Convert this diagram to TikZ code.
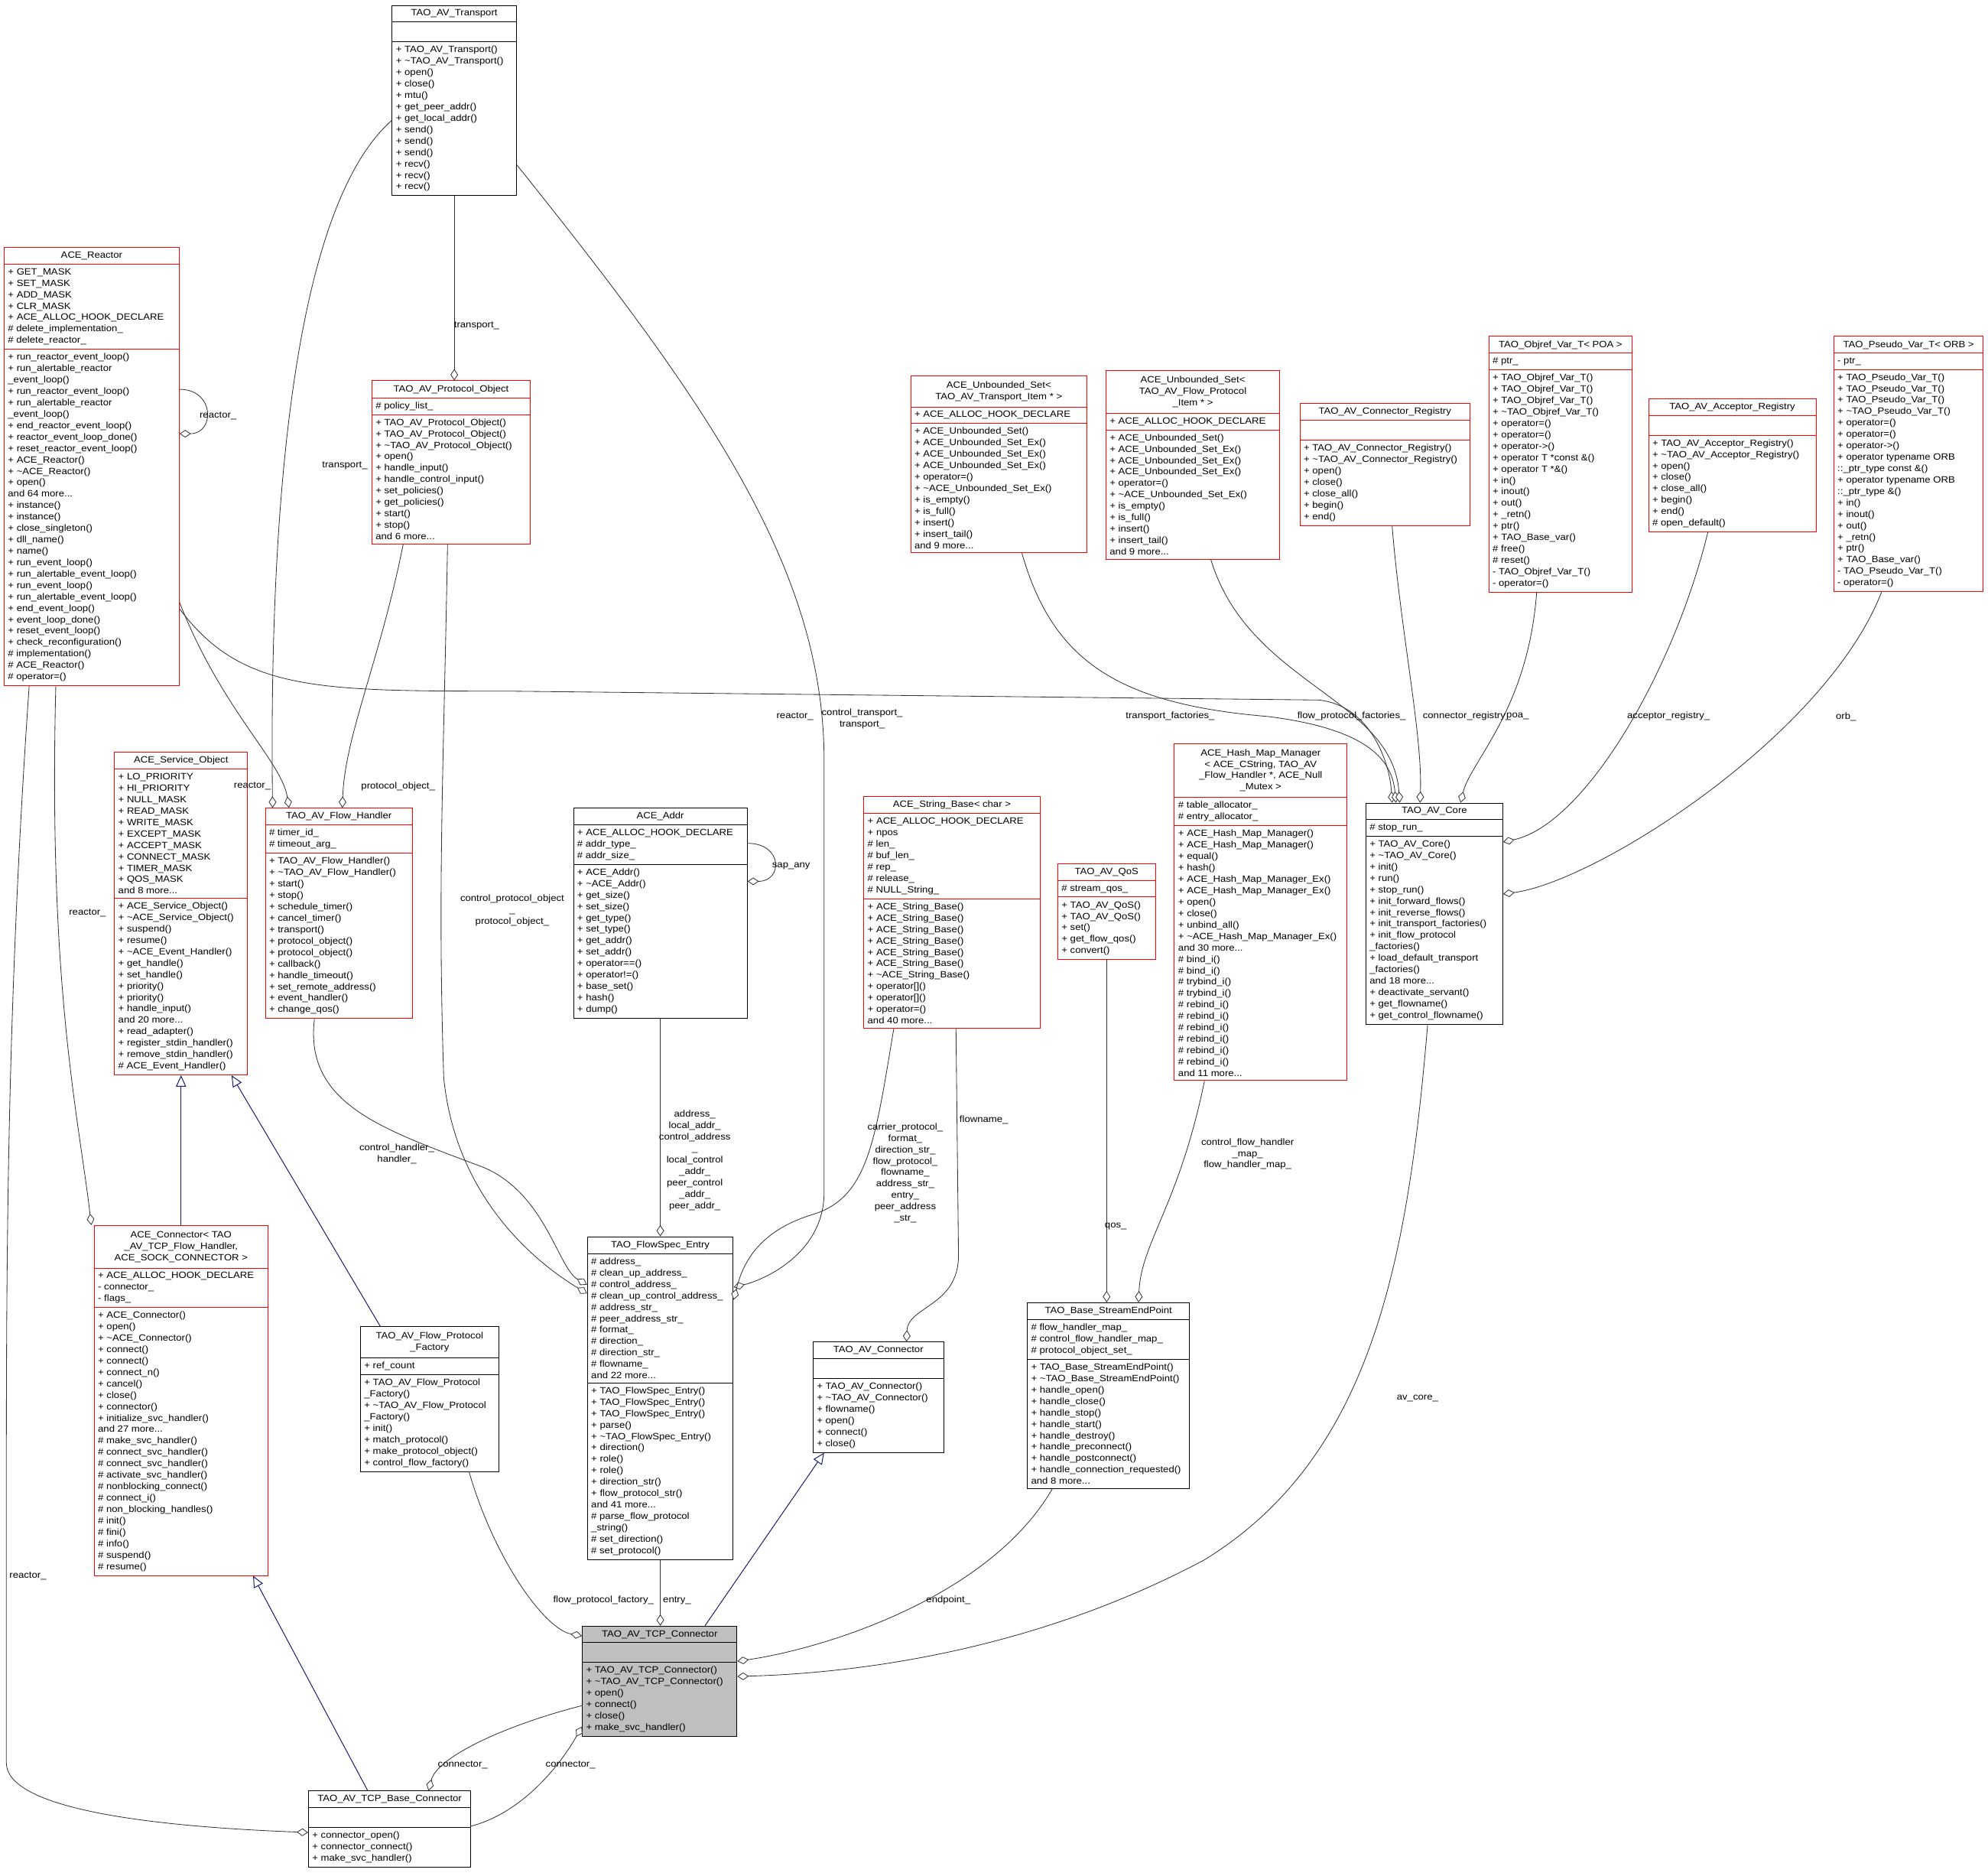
\documentclass[tikz,border=0pt]{standalone}
\usepackage{fontspec}
\setmainfont[FakeStretch=1.1]{Liberation Sans}
\usetikzlibrary{shapes.multipart,arrows.meta,calc}
\definecolor{navyb}{RGB}{25,25,112}
\newcommand\fsz{\fontsize{7.2}{9}\selectfont}
\newcommand\ttl[1]{\begin{tabular}{@{}c@{}}#1\end{tabular}}
\tikzset{
 cls/.style={rectangle split, rectangle split parts=3, rectangle split part align={center,left,left},
   rectangle split ignore empty parts=false, rectangle split empty part height=9pt,
   draw=black, fill=white, anchor=north west, align=left, inner xsep=3pt, inner ysep=3pt,
   line width=0.6pt, font=\fsz},
 redc/.style={draw=red},
 agg/.style={draw=black!80, line width=0.5pt, -{Diamond[open,length=9pt,width=6pt,fill=white]}},
 inh/.style={draw=navyb, line width=0.6pt, -{Triangle[open,length=9pt,width=8pt,fill=white]}},
 lbl/.style={font=\fsz, align=center, inner sep=0pt}
}
\catcode`\_=12
\catcode`\~=12
\begin{document}
\begin{tikzpicture}[x=1pt,y=-1pt]
\useasboundingbox (0,0) rectangle (1568,1479);
% ---------- classes
\node[cls, minimum width=98pt] (trans) at (309,4) {TAO_AV_Transport\nodepart{two}\nodepart{three}+ TAO_AV_Transport()\\+ ~TAO_AV_Transport()\\+ open()\\+ close()\\+ mtu()\\+ get_peer_addr()\\+ get_local_addr()\\+ send()\\+ send()\\+ send()\\+ recv()\\+ recv()\\+ recv()};

\node[cls, redc, minimum width=138pt] (reactor) at (3,195) {ACE_Reactor\nodepart{two}+ GET_MASK\\+ SET_MASK\\+ ADD_MASK\\+ CLR_MASK\\+ ACE_ALLOC_HOOK_DECLARE\\\# delete_implementation_\\\# delete_reactor_\nodepart{three}+ run_reactor_event_loop()\\+ run_alertable_reactor\\_event_loop()\\+ run_reactor_event_loop()\\+ run_alertable_reactor\\_event_loop()\\+ end_reactor_event_loop()\\+ reactor_event_loop_done()\\+ reset_reactor_event_loop()\\+ ACE_Reactor()\\+ ~ACE_Reactor()\\+ open()\\and 64 more...\\+ instance()\\+ instance()\\+ close_singleton()\\+ dll_name()\\+ name()\\+ run_event_loop()\\+ run_alertable_event_loop()\\+ run_event_loop()\\+ run_alertable_event_loop()\\+ end_event_loop()\\+ event_loop_done()\\+ reset_event_loop()\\+ check_reconfiguration()\\\# implementation()\\\# ACE_Reactor()\\\# operator=()};

\node[cls, redc, minimum width=125pt] (protobj) at (293,300) {TAO_AV_Protocol_Object\nodepart{two}\# policy_list_\nodepart{three}+ TAO_AV_Protocol_Object()\\+ TAO_AV_Protocol_Object()\\+ ~TAO_AV_Protocol_Object()\\+ open()\\+ handle_input()\\+ handle_control_input()\\+ set_policies()\\+ get_policies()\\+ start()\\+ stop()\\and 6 more...};

\node[cls, redc, minimum width=139pt] (usett) at (718,296) {\ttl{ACE_Unbounded_Set<\\TAO_AV_Transport_Item * >}\nodepart{two}+ ACE_ALLOC_HOOK_DECLARE\nodepart{three}+ ACE_Unbounded_Set()\\+ ACE_Unbounded_Set_Ex()\\+ ACE_Unbounded_Set_Ex()\\+ ACE_Unbounded_Set_Ex()\\+ operator=()\\+ ~ACE_Unbounded_Set_Ex()\\+ is_empty()\\+ is_full()\\+ insert()\\+ insert_tail()\\and 9 more...};

\node[cls, redc, minimum width=137pt] (usetf) at (872,292) {\ttl{ACE_Unbounded_Set<\\TAO_AV_Flow_Protocol\\_Item * >}\nodepart{two}+ ACE_ALLOC_HOOK_DECLARE\nodepart{three}+ ACE_Unbounded_Set()\\+ ACE_Unbounded_Set_Ex()\\+ ACE_Unbounded_Set_Ex()\\+ ACE_Unbounded_Set_Ex()\\+ operator=()\\+ ~ACE_Unbounded_Set_Ex()\\+ is_empty()\\+ is_full()\\+ insert()\\+ insert_tail()\\and 9 more...};

\node[cls, redc, minimum width=134pt] (conreg) at (1025,318) {TAO_AV_Connector_Registry\nodepart{two}\nodepart{three}+ TAO_AV_Connector_Registry()\\+ ~TAO_AV_Connector_Registry()\\+ open()\\+ close()\\+ close_all()\\+ begin()\\+ end()};

\node[cls, redc, minimum width=113pt] (objref) at (1174,265) {TAO_Objref_Var_T< POA >\nodepart{two}\# ptr_\nodepart{three}+ TAO_Objref_Var_T()\\+ TAO_Objref_Var_T()\\+ TAO_Objref_Var_T()\\+ ~TAO_Objref_Var_T()\\+ operator=()\\+ operator=()\\+ operator->()\\+ operator T *const \&()\\+ operator T *\&()\\+ in()\\+ inout()\\+ out()\\+ _retn()\\+ ptr()\\+ TAO_Base_var()\\\# free()\\\# reset()\\- TAO_Objref_Var_T()\\- operator=()};

\node[cls, redc, minimum width=132pt] (accreg) at (1300,314) {TAO_AV_Acceptor_Registry\nodepart{two}\nodepart{three}+ TAO_AV_Acceptor_Registry()\\+ ~TAO_AV_Acceptor_Registry()\\+ open()\\+ close()\\+ close_all()\\+ begin()\\+ end()\\\# open_default()};

\node[cls, redc, minimum width=118pt] (pseudo) at (1446,265) {TAO_Pseudo_Var_T< ORB >\nodepart{two}- ptr_\nodepart{three}+ TAO_Pseudo_Var_T()\\+ TAO_Pseudo_Var_T()\\+ TAO_Pseudo_Var_T()\\+ ~TAO_Pseudo_Var_T()\\+ operator=()\\+ operator=()\\+ operator->()\\+ operator typename ORB\\::_ptr_type const \&()\\+ operator typename ORB\\::_ptr_type \&()\\+ in()\\+ inout()\\+ out()\\+ _retn()\\+ ptr()\\+ TAO_Base_var()\\- TAO_Pseudo_Var_T()\\- operator=()};

\node[cls, redc, minimum width=105pt] (svc) at (90,593) {ACE_Service_Object\nodepart{two}+ LO_PRIORITY\\+ HI_PRIORITY\\+ NULL_MASK\\+ READ_MASK\\+ WRITE_MASK\\+ EXCEPT_MASK\\+ ACCEPT_MASK\\+ CONNECT_MASK\\+ TIMER_MASK\\+ QOS_MASK\\and 8 more...\nodepart{three}+ ACE_Service_Object()\\+ ~ACE_Service_Object()\\+ suspend()\\+ resume()\\+ ~ACE_Event_Handler()\\+ get_handle()\\+ set_handle()\\+ priority()\\+ priority()\\+ handle_input()\\and 20 more...\\+ read_adapter()\\+ register_stdin_handler()\\+ remove_stdin_handler()\\\# ACE_Event_Handler()};

\node[cls, redc, minimum width=116pt] (flowh) at (209,637) {TAO_AV_Flow_Handler\nodepart{two}\# timer_id_\\\# timeout_arg_\nodepart{three}+ TAO_AV_Flow_Handler()\\+ ~TAO_AV_Flow_Handler()\\+ start()\\+ stop()\\+ schedule_timer()\\+ cancel_timer()\\+ transport()\\+ protocol_object()\\+ protocol_object()\\+ callback()\\+ handle_timeout()\\+ set_remote_address()\\+ event_handler()\\+ change_qos()};

\node[cls, minimum width=137pt] (addr) at (452,637) {ACE_Addr\nodepart{two}+ ACE_ALLOC_HOOK_DECLARE\\\# addr_type_\\\# addr_size_\nodepart{three}+ ACE_Addr()\\+ ~ACE_Addr()\\+ get_size()\\+ set_size()\\+ get_type()\\+ set_type()\\+ get_addr()\\+ set_addr()\\+ operator==()\\+ operator!=()\\+ base_set()\\+ hash()\\+ dump()};

\node[cls, redc, minimum width=139pt] (strb) at (681,628) {ACE_String_Base< char >\nodepart{two}+ ACE_ALLOC_HOOK_DECLARE\\+ npos\\\# len_\\\# buf_len_\\\# rep_\\\# release_\\\# NULL_String_\nodepart{three}+ ACE_String_Base()\\+ ACE_String_Base()\\+ ACE_String_Base()\\+ ACE_String_Base()\\+ ACE_String_Base()\\+ ACE_String_Base()\\+ ~ACE_String_Base()\\+ operator[]()\\+ operator[]()\\+ operator=()\\and 40 more...};

\node[cls, redc, minimum width=136pt] (hash) at (926,586) {\ttl{ACE_Hash_Map_Manager\\< ACE_CString, TAO_AV\\_Flow_Handler *, ACE_Null\\_Mutex >}\nodepart{two}\# table_allocator_\\\# entry_allocator_\nodepart{three}+ ACE_Hash_Map_Manager()\\+ ACE_Hash_Map_Manager()\\+ equal()\\+ hash()\\+ ACE_Hash_Map_Manager_Ex()\\+ ACE_Hash_Map_Manager_Ex()\\+ open()\\+ close()\\+ unbind_all()\\+ ~ACE_Hash_Map_Manager_Ex()\\and 30 more...\\\# bind_i()\\\# bind_i()\\\# trybind_i()\\\# trybind_i()\\\# rebind_i()\\\# rebind_i()\\\# rebind_i()\\\# rebind_i()\\\# rebind_i()\\\# rebind_i()\\and 11 more...};

\node[cls, redc, minimum width=77pt] (qos) at (834,681) {TAO_AV_QoS\nodepart{two}\# stream_qos_\nodepart{three}+ TAO_AV_QoS()\\+ TAO_AV_QoS()\\+ set()\\+ get_flow_qos()\\+ convert()};

\node[cls, minimum width=108pt] (core) at (1077,633) {TAO_AV_Core\nodepart{two}\# stop_run_\nodepart{three}+ TAO_AV_Core()\\+ ~TAO_AV_Core()\\+ init()\\+ run()\\+ stop_run()\\+ init_forward_flows()\\+ init_reverse_flows()\\+ init_transport_factories()\\+ init_flow_protocol\\_factories()\\+ load_default_transport\\_factories()\\and 18 more...\\+ deactivate_servant()\\+ get_flowname()\\+ get_control_flowname()};

\node[cls, redc, minimum width=137pt] (acecon) at (74,966) {\ttl{ACE_Connector< TAO\\_AV_TCP_Flow_Handler,\\ ACE_SOCK_CONNECTOR >}\nodepart{two}+ ACE_ALLOC_HOOK_DECLARE\\- connector_\\- flags_\nodepart{three}+ ACE_Connector()\\+ open()\\+ ~ACE_Connector()\\+ connect()\\+ connect()\\+ connect_n()\\+ cancel()\\+ close()\\+ connector()\\+ initialize_svc_handler()\\and 27 more...\\\# make_svc_handler()\\\# connect_svc_handler()\\\# connect_svc_handler()\\\# activate_svc_handler()\\\# nonblocking_connect()\\\# connect_i()\\\# non_blocking_handles()\\\# init()\\\# fini()\\\# info()\\\# suspend()\\\# resume()};

\node[cls, minimum width=109pt] (afpf) at (284,1046) {\ttl{TAO_AV_Flow_Protocol\\_Factory}\nodepart{two}+ ref_count\nodepart{three}+ TAO_AV_Flow_Protocol\\_Factory()\\+ ~TAO_AV_Flow_Protocol\\_Factory()\\+ init()\\+ match_protocol()\\+ make_protocol_object()\\+ control_flow_factory()};

\node[cls, minimum width=115pt] (fse) at (463,975) {TAO_FlowSpec_Entry\nodepart{two}\# address_\\\# clean_up_address_\\\# control_address_\\\# clean_up_control_address_\\\# address_str_\\\# peer_address_str_\\\# format_\\\# direction_\\\# direction_str_\\\# flowname_\\and 22 more...\nodepart{three}+ TAO_FlowSpec_Entry()\\+ TAO_FlowSpec_Entry()\\+ TAO_FlowSpec_Entry()\\+ parse()\\+ ~TAO_FlowSpec_Entry()\\+ direction()\\+ role()\\+ role()\\+ direction_str()\\+ flow_protocol_str()\\and 41 more...\\\# parse_flow_protocol\\_string()\\\# set_direction()\\\# set_protocol()};

\node[cls, minimum width=103pt] (avcon) at (641,1058) {TAO_AV_Connector\nodepart{two}\nodepart{three}+ TAO_AV_Connector()\\+ ~TAO_AV_Connector()\\+ flowname()\\+ open()\\+ connect()\\+ close()};

\node[cls, minimum width=128pt] (bse) at (810,1027) {TAO_Base_StreamEndPoint\nodepart{two}\# flow_handler_map_\\\# control_flow_handler_map_\\\# protocol_object_set_\nodepart{three}+ TAO_Base_StreamEndPoint()\\+ ~TAO_Base_StreamEndPoint()\\+ handle_open()\\+ handle_close()\\+ handle_stop()\\+ handle_start()\\+ handle_destroy()\\+ handle_preconnect()\\+ handle_postconnect()\\+ handle_connection_requested()\\and 8 more...};

\node[cls, minimum width=122pt, fill=black!25] (tcp) at (459,1282) {TAO_AV_TCP_Connector\nodepart{two}\nodepart{three}+ TAO_AV_TCP_Connector()\\+ ~TAO_AV_TCP_Connector()\\+ open()\\+ connect()\\+ close()\\+ make_svc_handler()};

\node[cls, minimum width=128pt] (tbc) at (243,1412) {TAO_AV_TCP_Base_Connector\nodepart{two}\nodepart{three}+ connector_open()\\+ connector_connect()\\+ make_svc_handler()};

% ---------- connectors
\begin{scope}[on background layer/.try]
\end{scope}
\draw[agg] (trans.south) -- (trans.south |- protobj.north);
\draw[agg] ([yshift=-91pt]trans.north west) .. controls (235,160) and (212,380) .. ([xshift=6pt]flowh.north west);
\draw[agg] ([yshift=-126pt]trans.north east) .. controls (560,320) and (650,450) .. (650,600) -- (650,940) .. controls (650,990) and (600,1010) .. ([yshift=-40pt]fse.north east);
\draw[agg] ([yshift=-112pt]reactor.north east) .. controls +(28,0) and +(28,0) .. ([yshift=-147pt]reactor.north east);
\draw[agg] ([yshift=-280pt]reactor.north east) .. controls (175,560) and (222,600) .. ([xshift=19pt]flowh.north west);
\draw[agg] ([yshift=-285pt]reactor.north east) .. controls (190,545) and (250,545) .. (400,545) -- (1040,552) .. controls (1080,556) and (1096,600) .. ([xshift=21pt]core.north west);
\draw[agg] ([xshift=41pt]reactor.south west) .. controls (38,780) and (62,880) .. ([xshift=-2pt]acecon.north west);
\draw[agg] ([xshift=20pt]reactor.south west) .. controls (5,800) and (5,1000) .. (5,1200) -- (5,1390) .. controls (5,1425) and (110,1440) .. ([yshift=-33pt]tbc.north west);
\draw[agg] ([xshift=25pt]protobj.south west) .. controls (300,520) and (272,580) .. ([xshift=61pt]flowh.north west);
\draw[agg] ([xshift=60pt]protobj.south west) .. controls (350,600) and (345,700) .. (350,850) .. controls (360,950) and (430,1000) .. ([yshift=-45pt]fse.north west);
\draw[agg] ([xshift=88pt]usett.south west) .. controls (830,520) and (880,555) .. (1000,565) .. controls (1080,575) and (1098,600) .. ([xshift=24pt]core.north west);
\draw[agg] ([xshift=83pt]usetf.south west) .. controls (985,540) and (1098,550) .. ([xshift=27pt]core.north west);
\draw[agg] ([xshift=73pt]conreg.south west) .. controls (1105,500) and (1122,580) .. ([xshift=43pt]core.north west);
\draw[agg] ([xshift=38pt]objref.south west) .. controls (1205,560) and (1160,600) .. ([xshift=75pt]core.north west);
\draw[agg] ([xshift=47pt]accreg.south west) .. controls (1320,530) and (1250,650) .. ([yshift=-31pt]core.north east);
\draw[agg] ([xshift=38pt]pseudo.south west) .. controls (1440,580) and (1260,695) .. ([yshift=-72pt]core.north east);
\draw[agg] ([yshift=-28pt]addr.north east) .. controls +(28,0) and +(28,0) .. ([yshift=-58pt]addr.north east);
\draw[agg] (addr.south) -- (addr.south |- fse.north);
\draw[agg] ([xshift=24pt]strb.south west) .. controls (690,900) and (685,945) .. (640,958) .. controls (595,972) and (585,1000) .. ([yshift=-50pt]fse.north east);
\draw[agg] ([xshift=73pt]strb.south west) -- (756,990) .. controls (756,1030) and (716,1030) .. ([xshift=74pt]avcon.north west);
\draw[agg] ([xshift=39pt]flowh.south west) .. controls (240,870) and (300,890) .. (380,920) .. controls (430,940) and (440,1000) .. ([yshift=-38pt]fse.north west);
\draw[agg] (qos.south) -- (qos.south |- bse.north);
\draw[agg] ([xshift=24pt]hash.south west) .. controls (930,950) and (900,980) .. ([xshift=88pt]bse.north west);
\draw[inh] (acecon.north) -- (svc.south);
\draw[inh] ([xshift=16pt]afpf.north west) -- ([xshift=-13pt]svc.south east);
\draw[agg] ([xshift=86pt]afpf.south west) .. controls (390,1230) and (430,1285) .. ([yshift=-8pt]tcp.north west);
\draw[agg] (fse.south) -- (fse.south |- tcp.north);
\draw[inh] ([xshift=97pt]tcp.north west) -- ([xshift=9pt]avcon.south west);
\draw[agg] ([xshift=20pt]bse.south west) .. controls (780,1260) and (650,1300) .. ([yshift=-28pt]tcp.north east);
\draw[agg] ([xshift=49pt]core.south west) .. controls (1110,1000) and (1080,1150) .. (950,1230) .. controls (800,1310) and (650,1320) .. ([yshift=-40pt]tcp.north east);
\draw[inh] ([xshift=47pt]tbc.north west) -- ([xshift=-12pt]acecon.south east);
\draw[agg] ([yshift=-63pt]tcp.north west) .. controls (400,1360) and (345,1385) .. ([xshift=95pt]tbc.north west);
\draw[agg] ([yshift=-28pt]tbc.north east) .. controls (410,1430) and (440,1395) .. ([yshift=8pt]tcp.south west);

% ---------- labels
\node[lbl] (l1) at (376,257) {transport_};
\node[lbl] (l2) at (272,367) {transport_};
\node[lbl] (l3) at (680,567) {control_transport_\\transport_};
\node[lbl] (l4) at (172,328) {reactor_};
\node[lbl] (l5) at (199,620) {reactor_};
\node[lbl] (l6) at (627,565) {reactor_};
\node[lbl] (l7) at (69,720) {reactor_};
\node[lbl] (l8) at (22,1243) {reactor_};
\node[lbl] (l9) at (314,620) {protocol_object_};
\node[lbl] (l10) at (404,718) {control_protocol_object\\_\\protocol_object_};
\node[lbl] (l11) at (923,565) {transport_factories_};
\node[lbl] (l12) at (1066,565) {flow_protocol_factories_};
\node[lbl] (l13) at (1157,565) {connector_registry_};
\node[lbl] (l14) at (1197,565) {poa_};
\node[lbl] (l15) at (1316,565) {acceptor_registry_};
\node[lbl] (l16) at (1456,565) {orb_};
\node[lbl] (l17) at (624,683) {sap_any};
\node[lbl] (l18) at (548,915) {address_\\local_addr_\\control_address\\_\\local_control\\_addr_\\peer_control\\_addr_\\peer_addr_};
\node[lbl] (l19) at (714,925) {carrier_protocol_\\format_\\direction_str_\\flow_protocol_\\flowname_\\address_str_\\entry_\\peer_address\\_str_};
\node[lbl] (l20) at (776,883) {flowname_};
\node[lbl] (l21) at (313,910) {control_handler_\\handler_};
\node[lbl] (l22) at (880,967) {qos_};
\node[lbl] (l23) at (984,910) {control_flow_handler\\_map_\\flow_handler_map_};
\node[lbl] (l24) at (476,1262) {flow_protocol_factory_};
\node[lbl] (l25) at (534,1262) {entry_};
\node[lbl] (l26) at (748,1262) {endpoint_};
\node[lbl] (l27) at (1118,1103) {av_core_};
\node[lbl] (l28) at (365,1392) {connector_};
\node[lbl] (l29) at (450,1392) {connector_};
\end{tikzpicture}
\end{document}
